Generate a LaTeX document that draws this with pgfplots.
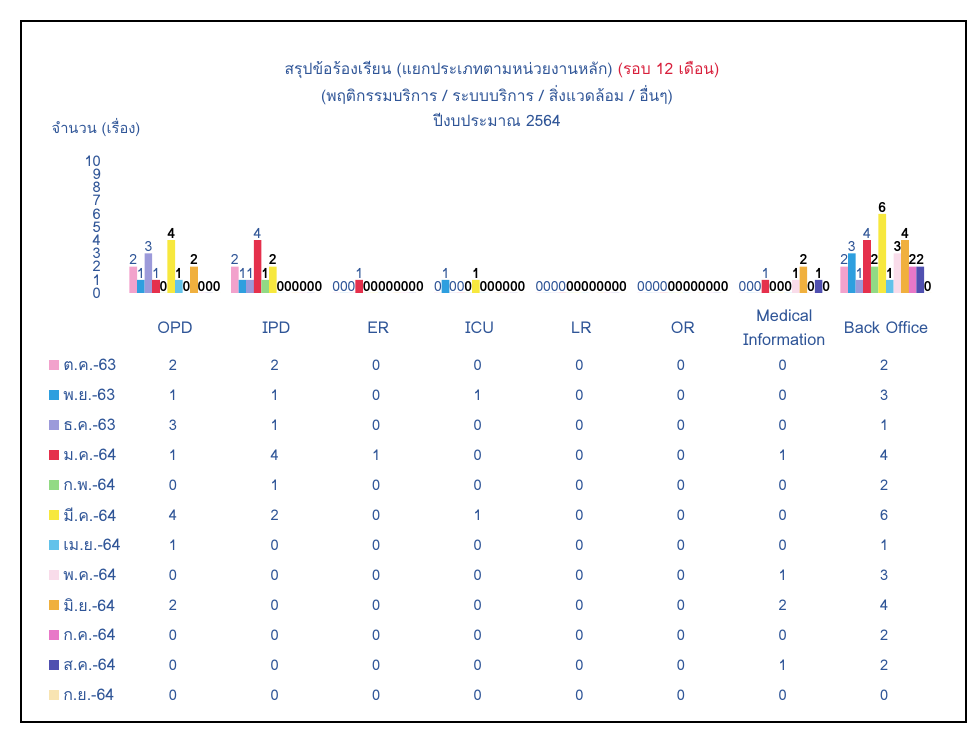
\documentclass[border=0pt]{standalone}
\usepackage{fontspec}
\setmainfont[Script=Thai]{Loma}
\usepackage{pgfplots}
\usepackage{pgfplotstable}
\pgfplotsset{compat=1.18}

\definecolor{txtblue}{HTML}{2F5597}
\definecolor{ttlred}{HTML}{D8203C}
\definecolor{c1}{HTML}{F2A2CC}
\definecolor{c2}{HTML}{2E9FDF}
\definecolor{c3}{HTML}{9C9ADA}
\definecolor{c4}{HTML}{E5304C}
\definecolor{c5}{HTML}{92DA84}
\definecolor{c6}{HTML}{F7E83E}
\definecolor{c7}{HTML}{62C2EA}
\definecolor{c8}{HTML}{F9DCEA}
\definecolor{c9}{HTML}{F0B03E}
\definecolor{c10}{HTML}{E878C8}
\definecolor{c11}{HTML}{5050B0}
\definecolor{c12}{HTML}{F8E4B2}

% complaints per unit (rows) and month (columns m1 = Oct-63 ... m12 = Sep-64)
\pgfplotstableread{
x m1 m2 m3 m4 m5 m6 m7 m8 m9 m10 m11 m12
0 2 1 3 1 0 4 1 0 2 0 0 0
1 2 1 1 4 1 2 0 0 0 0 0 0
2 0 0 0 1 0 0 0 0 0 0 0 0
3 0 1 0 0 0 1 0 0 0 0 0 0
4 0 0 0 0 0 0 0 0 0 0 0 0
5 0 0 0 0 0 0 0 0 0 0 0 0
6 0 0 0 1 0 0 0 1 2 0 1 0
7 2 3 1 4 2 6 1 3 4 2 2 0
}\counts

\pgfplotsset{
  blueval/.style={every node near coord/.append style={text=txtblue}},
  blackval/.style={every node near coord/.append style={text=black, font=\fontsize{10.5}{11}\selectfont\bfseries}},
}

\begin{document}
\begin{tikzpicture}
\begin{scope}[x=0.75pt,y=-0.75pt]
  \path (0,0) rectangle (968,737);
  \draw[line width=1.5pt] (21,21) rectangle (966,722);
  % titles
  \node[text=txtblue, font=\fontsize{11.7}{13}\selectfont] at (502,70)
    {สรุปข้อร้องเรียน (แยกประเภทตามหน่วยงานหลัก) \textcolor{ttlred}{(รอบ 12 เดือน)}};
  \node[text=txtblue, font=\fontsize{11.7}{13}\selectfont] at (497,95)
    {(พฤติกรรมบริการ / ระบบบริการ / สิ่งแวดล้อม / อื่นๆ)};
  \node[text=txtblue, font=\fontsize{11.7}{13}\selectfont] at (497,120)
    {ปีงบประมาณ 2564};
  \node[text=txtblue, font=\fontsize{11}{12}\selectfont] at (96,128) {จำนวน (เรื่อง)};
  % data table: legend keys, month names and values
  \foreach \j/\mn in {1/ต.ค.-63,2/พ.ย.-63,3/ธ.ค.-63,4/ม.ค.-64,5/ก.พ.-64,6/มี.ค.-64,
                      7/เม.ย.-64,8/พ.ค.-64,9/มิ.ย.-64,10/ก.ค.-64,11/ส.ค.-64,12/ก.ย.-64}{
    \pgfmathsetmacro{\ry}{365+30*(\j-1)}
    \fill[c\j] (49,\ry-5) rectangle (59,\ry+5);
    \node[anchor=west, text=txtblue, font=\fontsize{12}{13}\selectfont, inner sep=0pt] at (63,\ry) {\mn};
    \foreach \i in {0,...,7}{
      \pgfplotstablegetelem{\i}{m\j}\of\counts
      \node[text=txtblue, font=\fontsize{11}{12}\selectfont] at (173+101.6*\i,\ry) {\pgfplotsretval};
    }
  }
\end{scope}
\begin{axis}[
  at={(93.19pt,-219.75pt)}, anchor=south west,
  scale only axis, width=609.4pt, height=99pt,
  xmin=-0.5, xmax=7.5, ymin=0, ymax=10,
  ybar=0pt, bar width=5.7pt,
  axis line style={draw=none}, major tick style={draw=none},
  ytick={0,...,10},
  xtick={0,...,7},
  xticklabels={OPD,IPD,ER,ICU,LR,OR,{Medical\\Information},Back Office},
  xticklabel style={anchor=center, yshift=-21.75pt, align=center,
    text=txtblue, font=\fontsize{12.2}{18.5}\selectfont},
  yticklabel style={text=txtblue, font=\fontsize{11}{12}\selectfont, xshift=-14pt},
  /pgf/number format/assume math mode=true,
  nodes near coords,
  every node near coord/.append style={font=\fontsize{10.5}{11}\selectfont, inner sep=1pt},
  clip=false,
]
  \addplot[fill=c1, draw=none, blueval] table[x=x,y=m1]{\counts};
  \addplot[fill=c2, draw=none, blueval] table[x=x,y=m2]{\counts};
  \addplot[fill=c3, draw=none, blueval] table[x=x,y=m3]{\counts};
  \addplot[fill=c4, draw=none, blueval] table[x=x,y=m4]{\counts};
  \addplot[fill=c5, draw=none, blackval] table[x=x,y=m5]{\counts};
  \addplot[fill=c6, draw=none, blackval] table[x=x,y=m6]{\counts};
  \addplot[fill=c7, draw=none, blackval] table[x=x,y=m7]{\counts};
  \addplot[fill=c8, draw=none, blackval] table[x=x,y=m8]{\counts};
  \addplot[fill=c9, draw=none, blackval] table[x=x,y=m9]{\counts};
  \addplot[fill=c10, draw=none, blackval] table[x=x,y=m10]{\counts};
  \addplot[fill=c11, draw=none, blackval] table[x=x,y=m11]{\counts};
  \addplot[fill=c12, draw=none, blackval] table[x=x,y=m12]{\counts};
\end{axis}
\end{tikzpicture}
\end{document}
